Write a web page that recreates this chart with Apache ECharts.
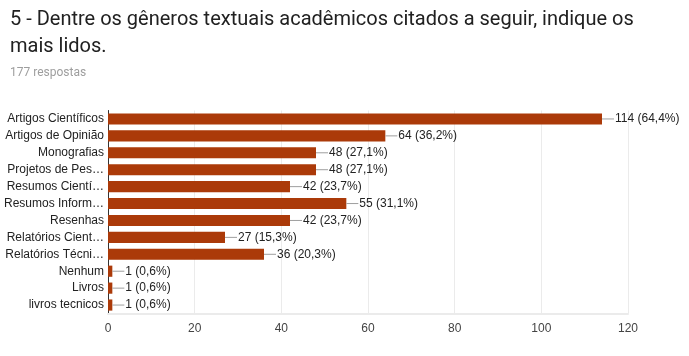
<!DOCTYPE html>
<html><head><meta charset="utf-8">
<script src="https://cdn.jsdelivr.net/npm/echarts@6/dist/echarts.min.js"></script>
<style>html,body{margin:0;padding:0;background:#fff}#c{width:689px;height:356px}</style>
</head><body><div id="c"></div>
<script>
var titleText = '5 - Dentre os gêneros textuais acadêmicos citados a seguir, indique os\nmais lidos.';
var subText = '177 respostas';
var total = 177;
var categories = ['Artigos Científicos','Artigos de Opinião','Monografias','Projetos de Pes…','Resumos Cientí…','Resumos Inform…','Resenhas','Relatórios Cient…','Relatórios Técni…','Nenhum','Livros','livros tecnicos'];
var values = [114,64,48,48,42,55,42,27,36,1,1,1];
var xTicks = [0,20,40,60,80,100,120];

var chart = echarts.init(document.getElementById('c'));
chart.setOption({
  animation:false,
  title:[
    {text:titleText,left:5,top:1,textStyle:{fontFamily:'Roboto',fontSize:20,fontWeight:'normal',color:'#212121',lineHeight:27}},
    {text:subText,left:5,top:62,textStyle:{fontFamily:'Roboto',fontSize:12,fontWeight:'normal',color:'#9e9e9e'}}
  ],
  grid:{left:108,right:61,top:110.5,height:203,containLabel:false},
  xAxis:{type:'value',min:xTicks[0],max:xTicks[xTicks.length-1],interval:20,
    axisLine:{show:true,lineStyle:{color:'#ebebeb',width:2}},axisTick:{show:false},
    axisLabel:{color:'#444',fontFamily:'Liberation Sans, Arial',fontSize:12,margin:9},
    splitLine:{show:true,lineStyle:{color:'#ebebeb'}}},
  yAxis:{type:'category',data:categories,inverse:true,
    axisLine:{show:true,lineStyle:{color:'#333',width:1}},axisTick:{show:false},
    axisLabel:{color:'#222',fontFamily:'Liberation Sans, Arial',fontSize:12,margin:4}},
  series:[{type:'bar',data:values,barCategoryGap:'34%',itemStyle:{color:'#ab3a09'},
    label:{show:true,position:'right',distance:0,
      formatter:function(p){return '{l|}{t|'+p.value+' ('+(p.value/total*100).toFixed(1).replace('.',',')+'%)}';},
      rich:{l:{width:12,height:1,backgroundColor:'#9e9e9e'},
            t:{color:'#222',fontFamily:'Liberation Sans, Arial',fontSize:12,padding:[0,0,0,1]}}}}]
});
</script></body></html>
